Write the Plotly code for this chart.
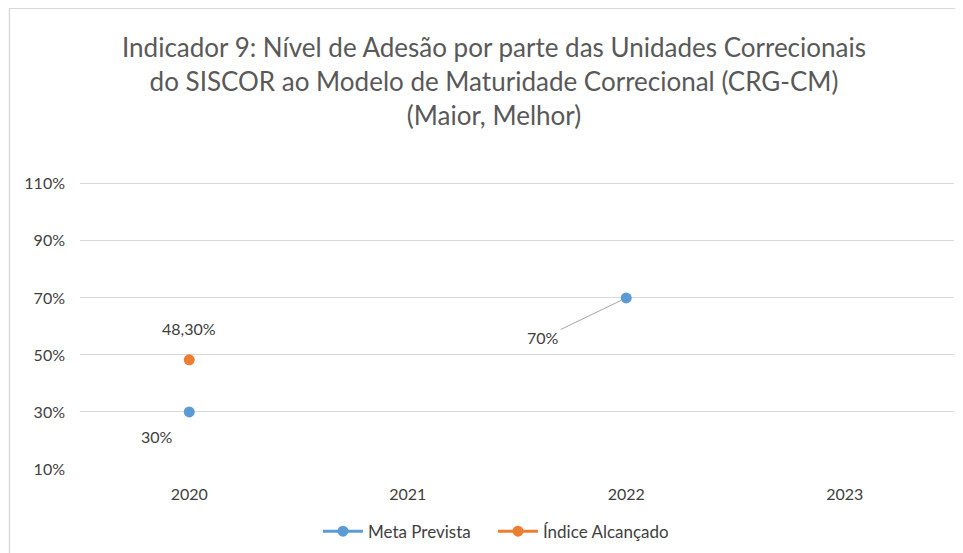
import plotly.graph_objects as go

years = ["2020", "2021", "2022", "2023"]
meta_prevista = [30, None, 70, None]
indice_alcancado = [48.3, None, None, None]
y_ticks = [10, 30, 50, 70, 90, 110]
y_tick_labels = ["10%", "30%", "50%", "70%", "90%", "110%"]

BLUE = "#5B9BD5"
ORANGE = "#ED7D31"
FONT = "Lato"
TXT = "#404040"

fig = go.Figure()
fig.add_trace(go.Scatter(x=years, y=meta_prevista, mode="lines+markers", name="Meta Prevista",
                         line=dict(color=BLUE, width=3), marker=dict(color=BLUE, size=11),
                         connectgaps=False))
fig.add_trace(go.Scatter(x=years, y=indice_alcancado, mode="lines+markers", name="Índice Alcançado",
                         line=dict(color=ORANGE, width=3), marker=dict(color=ORANGE, size=11),
                         connectgaps=False))

# data labels (x given as category index)
fig.add_annotation(x=0, y=meta_prevista[0], text="30%", showarrow=False,
                   xshift=-32, yshift=-25, font=dict(family=FONT, size=16, color=TXT))
fig.add_annotation(x=0, y=indice_alcancado[0], text="48,30%", showarrow=False,
                   yshift=31, font=dict(family=FONT, size=16, color=TXT))
fig.add_annotation(x=2, y=meta_prevista[2], text="70%", showarrow=True,
                   ax=-83, ay=40, arrowhead=0, arrowwidth=1, arrowcolor="#A6A6A6",
                   standoff=5, font=dict(family=FONT, size=16, color=TXT))

fig.update_layout(
    width=955, height=545,
    margin=dict(l=72, r=9, t=173, b=84, autoexpand=False),
    paper_bgcolor="white", plot_bgcolor="white",
    title=dict(text="Indicador 9: Nível de Adesão por parte das Unidades Correcionais<br>"
                    "do SISCOR ao Modelo de Maturidade Correcional (CRG-CM)<br>(Maior, Melhor)",
               x=486/955, xanchor="center", y=1-49/545, yanchor="middle", yref="container",
               font=dict(family=FONT, size=26, color="#595959")),
    showlegend=True,
    legend=dict(orientation="h", x=0.4725, xanchor="center", y=-0.2175, yanchor="middle",
                font=dict(family=FONT, size=17, color=TXT), itemwidth=40, tracegroupgap=0,
                entrywidth=120),
    xaxis=dict(type="category", categoryorder="array", categoryarray=years, range=[-0.5, 3.5],
               showgrid=False, showline=False, zeroline=False, ticks="",
               ticklabelstandoff=14, tickfont=dict(family=FONT, size=16, color=TXT)),
    yaxis=dict(range=[10, 111], tickvals=y_ticks, ticktext=y_tick_labels,
               showgrid=True, gridcolor="#D9D9D9", gridwidth=1, zeroline=False, showline=False,
               ticks="", ticklabelstandoff=14, tickfont=dict(family=FONT, size=16, color=TXT)),
    shapes=[dict(type="rect", xref="paper", yref="paper", x0=(1.5-72)/874, x1=1.05,
                 y0=-0.4, y1=(461-5)/285, line=dict(color="#D9D9D9", width=1.5),
                 fillcolor="rgba(0,0,0,0)", layer="below")],
)

fig.write_html("out.html")
